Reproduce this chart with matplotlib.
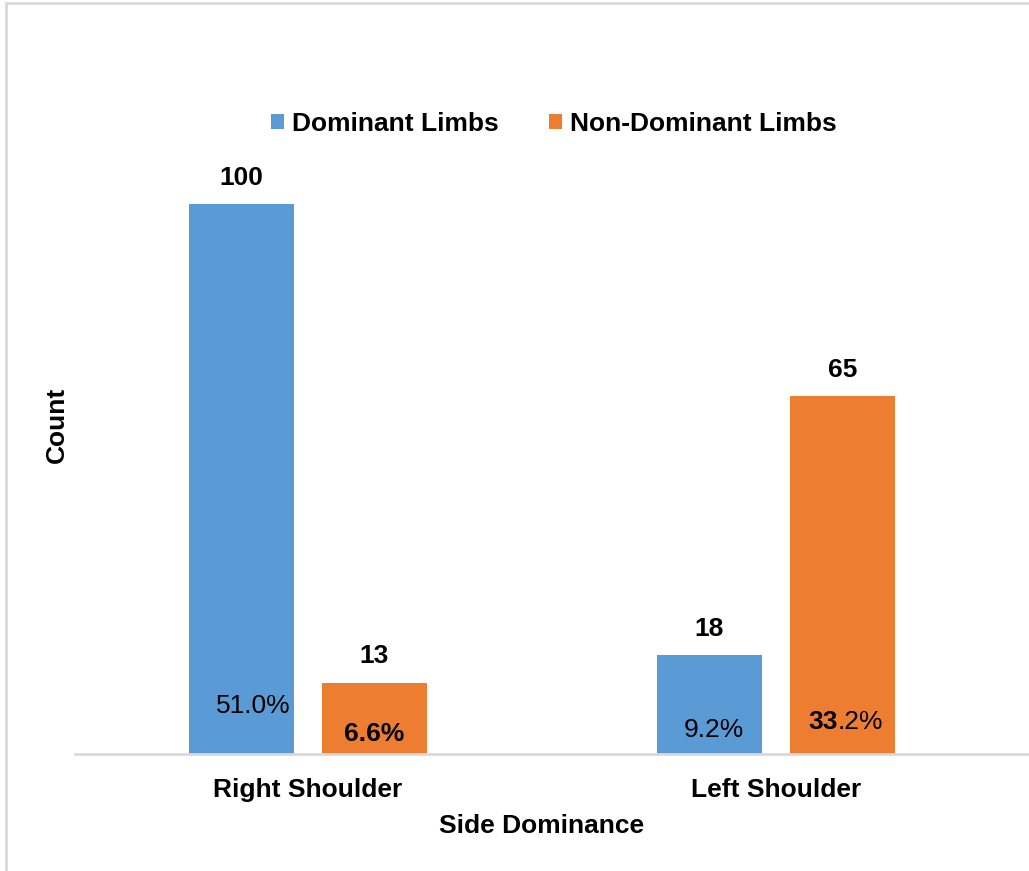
import numpy as np
import matplotlib.pyplot as plt
from matplotlib.patches import Rectangle

plt.rcParams['font.family'] = ['Liberation Sans', 'DejaVu Sans']

categories = ['Right Shoulder', 'Left Shoulder']
series = ['Dominant Limbs', 'Non-Dominant Limbs']
dominant = [100, 18]
non_dominant = [13, 65]
dom_pct = ['51.0%', '9.2%']
nondom_pct = ['6.6%', '33.2%']

blue = '#5B9BD5'
orange = '#ED7D31'

fig = plt.figure(figsize=(10.29, 8.71), dpi=100)
ax = fig.add_axes([75/1029, 1-754/871, 1-75/1029, (754-149)/871])

x = np.arange(len(categories))
w = 105/468
off = 66.5/468
b1 = ax.bar(x - off, dominant, w, color=blue)
b2 = ax.bar(x + off, non_dominant, w, color=orange)

fs = 19
for bars, vals in [(b1, dominant), (b2, non_dominant)]:
    for r, v in zip(bars, vals):
        ax.text(r.get_x() + r.get_width()/2, v + 2.6, str(v), ha='center', va='bottom',
                fontsize=fs, fontweight='bold')

# percentage labels inside bars
ax.text(x[0] - off + 0.025, 8.7, dom_pct[0], ha='center', va='center', fontsize=fs)
ax.text(x[0] + off, 3.7, nondom_pct[0], ha='center', va='center', fontsize=fs, fontweight='bold')
ax.text(x[1] - off + 0.01, 4.4, dom_pct[1], ha='center', va='center', fontsize=fs)
t1 = ax.text(x[1] + off - 0.01, 5.9, nondom_pct[1][:2], ha='right', va='center', fontsize=fs,
             fontweight='bold')
ax.annotate(nondom_pct[1][2:], xy=(1, 0.5), xycoords=t1, ha='left', va='center', fontsize=fs)

ax.set_xlim(-0.498, 1.541)
ax.set_ylim(0, 110)
for s in ['top', 'right', 'left']:
    ax.spines[s].set_visible(False)
ax.spines['bottom'].set_color('#D9D9D9')
ax.spines['bottom'].set_linewidth(2)
ax.set_yticks([])
ax.set_xticks(x)
ax.set_xticklabels(categories, fontsize=fs, fontweight='bold')
ax.tick_params(axis='x', length=0, pad=17)

fig.text(542/1029, 1-826/871, 'Side Dominance', ha='center', va='center', fontsize=fs,
         fontweight='bold')
fig.text(57/1029, 1-425/871, 'Count', ha='center', va='center', rotation=90, fontsize=fs,
         fontweight='bold')

ax.legend([b1, b2], series, loc='center', bbox_to_anchor=(554/1029, 1-124/871),
          bbox_transform=fig.transFigure, ncol=2, frameon=False, handlelength=0.5,
          handleheight=0.5, handletextpad=0.3, columnspacing=1.9,
          prop={'size': fs, 'weight': 'bold'})

fig.patches.append(Rectangle((6/1029, -0.1), 1.2, 1 - 3/871 + 0.1, transform=fig.transFigure,
                             fill=False, edgecolor='#D9D9D9', linewidth=2))

fig.savefig('out.png', dpi=100)
